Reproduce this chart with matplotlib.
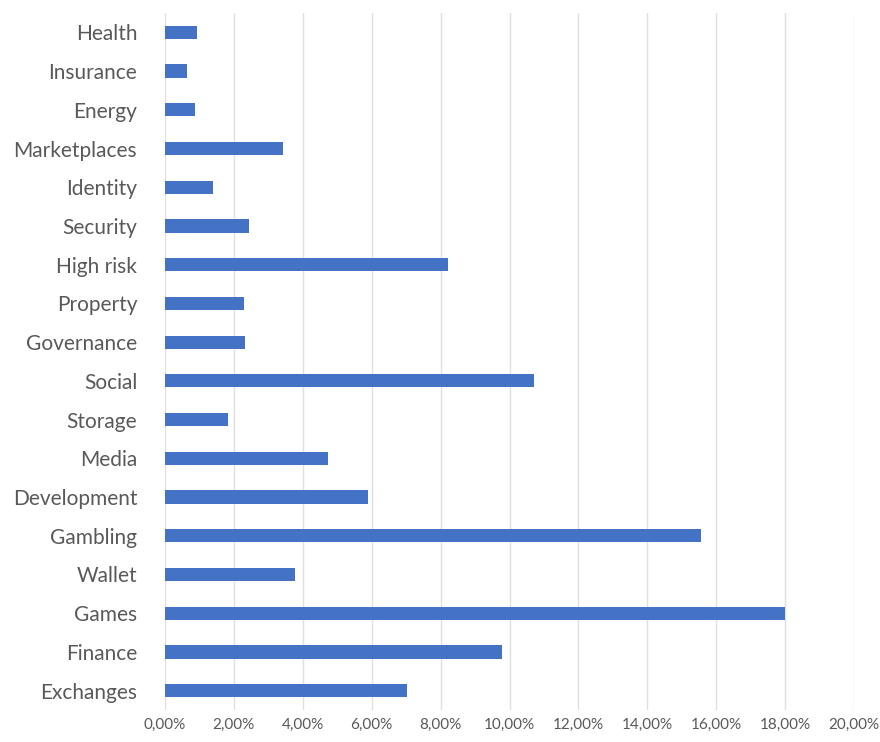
import numpy as np
import matplotlib.pyplot as plt
from matplotlib.ticker import FuncFormatter

categories = ['Exchanges', 'Finance', 'Games', 'Wallet', 'Gambling', 'Development',
              'Media', 'Storage', 'Social', 'Governance', 'Property', 'High risk',
              'Security', 'Identity', 'Marketplaces', 'Energy', 'Insurance', 'Health']
shares = [7.03, 9.79, 18.0, 3.76, 15.55, 5.89,
          4.74, 1.82, 10.72, 2.32, 2.29, 8.20,
          2.43, 1.38, 3.42, 0.86, 0.65, 0.94]

plt.rcParams['font.family'] = ['Lato', 'DejaVu Sans']

fig = plt.figure(figsize=(8.8, 7.42), dpi=100)
ax = fig.add_axes([0.1875, 0.0431, 0.7830, 0.9394])

y = np.arange(len(categories))
ax.barh(y, shares, height=0.34, color='#4472C4', zorder=3)

ax.set_xlim(0, 20)
ax.set_ylim(-0.5, len(categories) - 0.5)
ax.set_xticks(np.arange(0, 21, 2))
ax.xaxis.set_major_formatter(FuncFormatter(lambda v, p: ('%.2f' % v).replace('.', ',') + '%'))
ax.set_yticks(y)
ax.set_yticklabels(categories)

ax.grid(axis='x', color='#e0e0e0', lw=1, zorder=0)
for s in ax.spines.values():
    s.set_visible(False)
ax.tick_params(axis='y', length=0, pad=20, labelsize=15, labelcolor='#595959')
ax.tick_params(axis='x', length=0, pad=6, labelsize=11, labelcolor='#595959')

fig.savefig('out.png', dpi=100)
